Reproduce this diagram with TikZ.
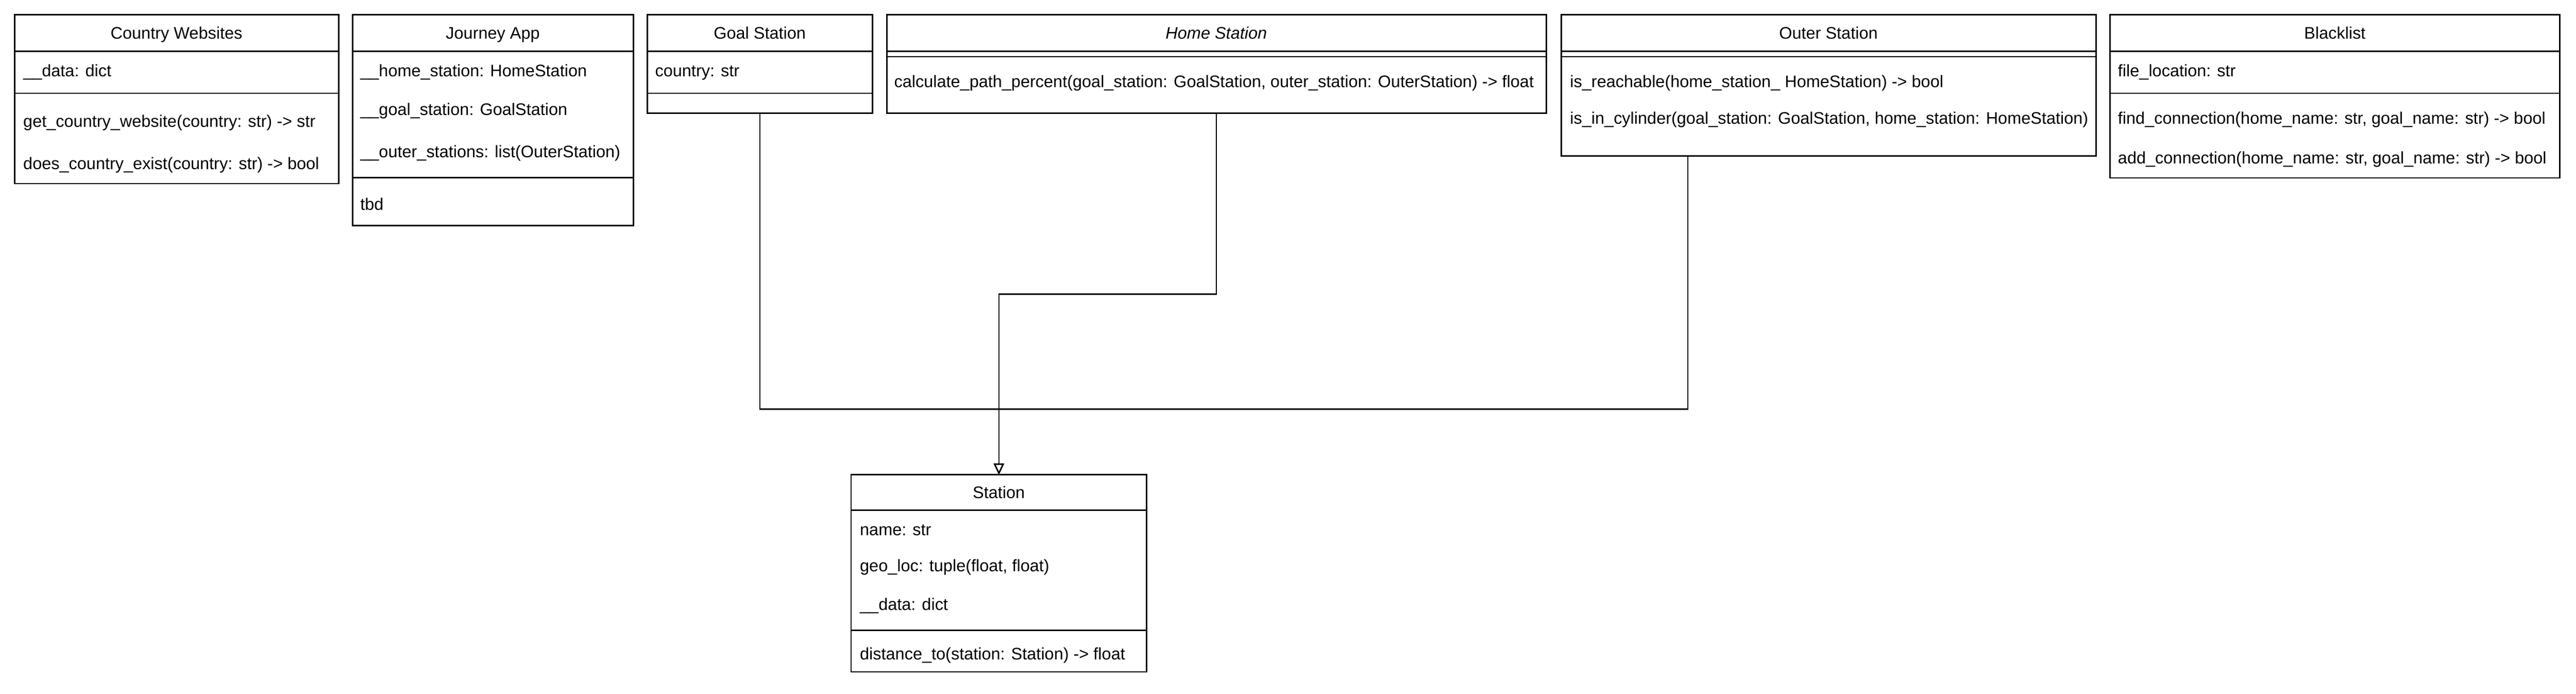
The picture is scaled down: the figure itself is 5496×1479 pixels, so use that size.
\documentclass[tikz,border=0pt]{standalone}
\usepackage{fontspec}
\setmainfont{Liberation Sans}
\usetikzlibrary{arrows.meta}
\begin{document}
\begin{tikzpicture}[x=0.01cm,y=-0.01cm,
  font=\fontsize{10.15pt}{12pt}\selectfont,
  classbox/.style={draw, line width=0.03cm, inner sep=0, outer sep=0, anchor=north west},
  divider/.style={line width=0.03cm},
  lbl/.style={anchor=base west, inner sep=0},
  ttl/.style={anchor=base, inner sep=0},
  conn/.style={line width=0.027cm, -{Triangle[open, length=0.24cm, width=0.22cm, line width=0.027cm]}}]
\useasboundingbox (0,0) rectangle (5496,1479);

% Country Websites
\node[classbox, minimum width=6.91cm, minimum height=3.60cm] (cw) at (31,31) {};
\draw[divider] (31,109) -- (722,109);
\draw[divider] (31,199) -- (722,199);
\node[ttl] (cwt) at (376.5,83) {Country Websites};
\node[lbl] (cw1) at (49,163) {\_\_data: dict};
\node[lbl] (cw2) at (49,271) {get\_country\_website(country: str) -> str};
\node[lbl] (cw3) at (49,361) {does\_country\_exist(country: str) -> bool};

% Journey App
\node[classbox, minimum width=5.99cm, minimum height=4.50cm] (ja) at (752,31) {};
\draw[divider] (752,109) -- (1351,109);
\draw[divider] (752,379) -- (1351,379);
\node[ttl] (jat) at (1051.5,83) {Journey App};
\node[lbl] (ja1) at (768,163) {\_\_home\_station: HomeStation};
\node[lbl] (ja2) at (768,246) {\_\_goal\_station: GoalStation};
\node[lbl] (ja3) at (768,336) {\_\_outer\_stations: list(OuterStation)};
\node[lbl] (ja4) at (768,448) {tbd};

% Goal Station
\node[classbox, minimum width=4.80cm, minimum height=2.10cm] (goal) at (1381,31) {};
\draw[divider] (1381,109) -- (1861,109);
\draw[divider] (1381,199) -- (1861,199);
\node[ttl] (goalt) at (1621,83) {Goal Station};
\node[lbl] (goal1) at (1397,163) {country: str};

% Home Station
\node[classbox, minimum width=14.06cm, minimum height=2.10cm] (home) at (1892,31) {};
\draw[divider] (1892,109) -- (3298,109);
\draw[divider] (1892,121) -- (3298,121);
\node[ttl] (homet) at (2595,83) {\itshape Home Station};
\node[lbl] (home1) at (1907,186) {calculate\_path\_percent(goal\_station: GoalStation, outer\_station: OuterStation) -> float};

% Outer Station
\node[classbox, minimum width=11.40cm, minimum height=3.01cm] (outer) at (3331,31) {};
\draw[divider] (3331,109) -- (4471,109);
\draw[divider] (3331,121) -- (4471,121);
\node[ttl] (outert) at (3901,83) {Outer Station};
\node[lbl] (outer1) at (3349,186) {is\_reachable(home\_station\_ HomeStation) -> bool};
\node[lbl] (outer2) at (3349,264) {is\_in\_cylinder(goal\_station: GoalStation, home\_station: HomeStation)};

% Blacklist
\node[classbox, minimum width=9.59cm, minimum height=3.48cm] (bl) at (4502,31) {};
\draw[divider] (4502,109) -- (5461,109);
\draw[divider] (4502,199) -- (5461,199);
\node[ttl] (blt) at (4981.5,83) {Blacklist};
\node[lbl] (bl1) at (4518,163) {file\_location: str};
\node[lbl] (bl2) at (4518,264) {find\_connection(home\_name: str, goal\_name: str) -> bool};
\node[lbl] (bl3) at (4518,349) {add\_connection(home\_name: str, goal\_name: str) -> bool};

% Station
\node[classbox, minimum width=6.30cm, minimum height=4.20cm] (station) at (1816,1012) {};
\draw[divider] (1816,1088) -- (2446,1088);
\draw[divider] (1816,1344) -- (2446,1344);
\node[ttl] (stationt) at (2131,1062) {Station};
\node[lbl] (st1) at (1834,1141) {name: str};
\node[lbl] (st2) at (1834,1219) {geo\_loc: tuple(float, float)};
\node[lbl] (st3) at (1834,1301) {\_\_data: dict};
\node[lbl] (st4) at (1834,1406) {distance\_to(station: Station) -> float};

% Connectors
\coordinate (outerout) at (3601,332);
\draw[conn] (goal.south) -- (goal.south |- 0,872) -- (station.north |- 0,872) -- (station.north);
\draw[conn] (outerout) -- (outerout |- 0,872) -- (station.north |- 0,872) -- (station.north);
\draw[conn] (home.south) -- (home.south |- 0,627) -- (station.north |- 0,627) -- (station.north);
\end{tikzpicture}
\end{document}
